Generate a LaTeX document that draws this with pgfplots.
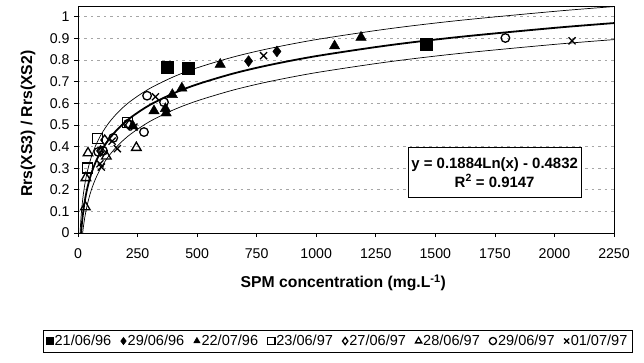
\documentclass[border=0pt]{standalone}
\usepackage{pgfplots}
\pgfplotsset{compat=1.18}
\usepackage{fontspec}
\setmainfont{Liberation Sans}
\begin{document}
\begin{tikzpicture}
\useasboundingbox (-78bp,-130bp) rectangle (566bp,233bp);
\begin{axis}[
  scale only axis,
  width=536bp, height=227bp,
  xmin=0, xmax=2250, ymin=0, ymax=1.05,
  xtick={0,250,...,2250},
  ytick={0,0.1,...,1.0},
  /pgf/number format/assume math mode=true,
  yticklabel style={/pgf/number format/fixed, /pgf/number format/precision=1, xshift=-1bp},
  ticklabel style={font=\fontsize{14.2}{16}\selectfont},
  xticklabel style={/pgf/number format/1000 sep={}, yshift=-8bp},
  tick align=outside, tick pos=left,
  major tick length=4bp,
  ymajorgrids,
  major grid style={gray!70, dash pattern=on 2.5bp off 4bp, line width=0.7bp},
  axis line style={black, line width=0.8bp},
  tick style={black, line width=0.7bp},
  xlabel={\bfseries SPM concentration (mg.L\textsuperscript{-1})},
  ylabel={\bfseries Rrs(XS3) / Rrs(XS2)},
  label style={font=\fontsize{15.8}{18}\selectfont},
  xlabel style={at={(axis description cs:0.495,-0.22)}, anchor=center},
  ylabel style={at={(axis description cs:-0.093,0.482)}, anchor=center, rotate=0},
  legend columns=8,
  legend style={at={(axis description cs:0.484,-0.476)}, anchor=center,
    draw=black, line width=0.6bp, font=\fontsize{14.6}{16}\selectfont,
    /tikz/every even column/.append style={column sep=8bp},
    nodes={inner xsep=1.5bp, inner ysep=3bp}},
  legend image code/.code={\draw[#1, mark size=3.6bp] plot coordinates {(4bp,0bp)};},
  clip=true,
]
% fit curves
\addplot[black, line width=0.7bp, forget plot, smooth] coordinates {
(8.66,0) (10,0.0270) (11,0.0450) (12,0.0614) (15,0.1034) (20,0.1576) (25,0.1996) (30,0.2340) (35,0.2630) (40,0.2882) (50,0.3302) (60,0.3646) (70,0.3936) (80,0.4188) (100,0.4608) (130,0.5102) (170,0.5608) (220,0.6094) (300,0.6678) (400,0.7220) (500,0.7640) (650,0.8135) (800,0.8526) (1000,0.8946) (1300,0.9440) (1600,0.9832) (2000,1.0252) (2250,1.0474)};
\addplot[black, line width=1.8bp, forget plot, smooth] coordinates {
(13,0) (15,0.0270) (17,0.0506) (20,0.0812) (25,0.1232) (30,0.1576) (35,0.1866) (40,0.2118) (50,0.2538) (60,0.2882) (70,0.3172) (80,0.3424) (100,0.3844) (130,0.4338) (170,0.4844) (220,0.5330) (300,0.5914) (400,0.6456) (500,0.6876) (650,0.7371) (800,0.7762) (1000,0.8182) (1300,0.8676) (1600,0.9068) (2000,0.9488) (2250,0.9710)};
\addplot[black, line width=0.7bp, forget plot, smooth] coordinates {
(19.5,0) (20,0.0048) (22,0.0227) (25,0.0468) (30,0.0812) (35,0.1102) (40,0.1354) (50,0.1774) (60,0.2118) (70,0.2408) (80,0.2660) (100,0.3080) (130,0.3574) (170,0.4080) (220,0.4566) (300,0.5150) (400,0.5692) (500,0.6112) (650,0.6607) (800,0.6998) (1000,0.7418) (1300,0.7912) (1600,0.8304) (2000,0.8724) (2250,0.8946)};
% data
\addplot[only marks, mark=square*, mark size=6bp, black] coordinates {(373,0.765) (463,0.76) (1462,0.875)};
\addlegendentry{21/06/96}
\addplot[only marks, mark=diamond*, mark size=5.5bp, black] coordinates {(716,0.795) (835,0.84)};
\addlegendentry{29/06/96}
\addplot[only marks, mark=triangle*, mark size=6bp, black] coordinates {(597,0.78) (1077,0.865) (1188,0.905) (436,0.67) (396,0.64) (319,0.565) (367,0.575) (370,0.555) (230,0.495)};
\addlegendentry{22/07/96}
\addplot[only marks, mark=square, mark size=5bp, black, line width=1.3bp] coordinates {(39,0.30) (81,0.436) (207,0.51)};
\addlegendentry{23/06/97}
\addplot[only marks, mark=diamond, mark size=5bp, black, line width=1.3bp] coordinates {(112,0.43) (95,0.38) (215,0.50)};
\addlegendentry{27/06/97}
\addplot[only marks, mark=triangle, mark size=5.5bp, black, line width=1.3bp] coordinates {(31,0.12) (33,0.255) (42,0.37) (119,0.355) (245,0.395)};
\addlegendentry{28/06/97}
\addplot[only marks, mark=o, mark size=4.3bp, black, line width=1.3bp] coordinates {(290,0.635) (361,0.605) (277,0.467) (148,0.44) (85,0.375) (105,0.38) (1794,0.902) (210,0.505)};
\addlegendentry{29/06/97}
\addplot[only marks, mark=x, mark size=5bp, black, line width=1.3bp] coordinates {(779,0.82) (2074,0.889) (325,0.63) (165,0.39) (92,0.32) (98,0.305) (143,0.425) (235,0.49)};
\addlegendentry{01/07/97}
\node[draw=black, line width=0.6bp, fill=white, align=center, minimum width=173bp, minimum height=50bp, inner xsep=1bp, font=\fontsize{15}{19}\selectfont\bfseries] at (axis cs:1749,0.281) {y = 0.1884Ln(x) - 0.4832\\R\textsuperscript{2} = 0.9147};
\end{axis}
\end{tikzpicture}
\end{document}
